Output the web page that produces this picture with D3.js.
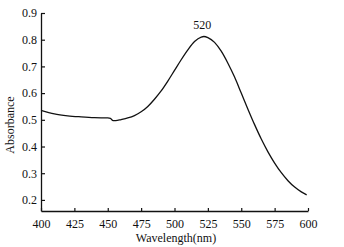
<!DOCTYPE html>
<html>
<head>
<meta charset="utf-8">
<script src="https://cdn.jsdelivr.net/npm/d3@7"></script>
<style>
  body { margin: 0; background: #fff; }
  text { font-family: "Liberation Serif", "DejaVu Serif", serif; fill: #111; }
</style>
</head>
<body>
<div id="chart"></div>
<script>
// absorption spectrum, peak at 520 nm

var wavelength = [400, 410, 420, 430, 440, 450, 452, 454, 456, 460, 465, 470, 475, 480, 485,
                  490, 495, 500, 505, 510, 515, 520, 522, 525, 530, 535, 540, 545, 550, 555,
                  560, 565, 570, 575, 580, 585, 590, 595, 599];
var absorbance = [0.535, 0.522, 0.515, 0.511, 0.508, 0.507, 0.505, 0.497, 0.497, 0.501, 0.507, 0.516, 0.530, 0.550, 0.577,
                  0.608, 0.645, 0.685, 0.725, 0.762, 0.793, 0.810, 0.812, 0.808, 0.790, 0.757, 0.712, 0.660, 0.600, 0.540,
                  0.482, 0.428, 0.380, 0.338, 0.302, 0.272, 0.248, 0.230, 0.219];
var xTicks = [400, 425, 450, 475, 500, 525, 550, 575, 600];
var yTicks = [0.2, 0.3, 0.4, 0.5, 0.6, 0.7, 0.8, 0.9];
var peakLabel = "520";

var width = 344,
    height = 247;

var svg = d3.select("#chart").append("svg")
    .attr("width", width)
    .attr("height", height);

var x = d3.scaleLinear().domain([400, 600]).range([41, 308]);
var y = d3.scaleLinear().domain([0.1585, 0.9]).range([211, 13]);

// x axis, ticks pointing inward
var gx = svg.append("g")
    .attr("transform", "translate(0," + y(0.1585) + ")")
    .call(d3.axisBottom(x).tickValues(xTicks).tickSizeInner(-3).tickSizeOuter(0).tickPadding(8));

// y axis
var gy = svg.append("g")
    .attr("transform", "translate(" + x(400) + ",0)")
    .call(d3.axisLeft(y).tickValues(yTicks).tickFormat(d3.format(".1f")).tickSizeInner(-4).tickSizeOuter(0).tickPadding(4));

svg.selectAll(".domain").attr("stroke", "#111").attr("stroke-width", 1.3);
svg.selectAll(".tick line").attr("stroke", "#111").attr("stroke-width", 1.2);
svg.selectAll(".tick text").style("font-size", "12px").style("font-family", "Liberation Serif");

// spectrum line
var line = d3.line()
    .x(function(d, i) { return x(wavelength[i]); })
    .y(function(d) { return y(d); })
    .curve(d3.curveMonotoneX);

svg.append("path")
    .datum(absorbance)
    .attr("fill", "none")
    .attr("stroke", "#111")
    .attr("stroke-width", 1.3)
    .attr("d", line);

// peak label
svg.append("text")
    .attr("x", x(520) + 1)
    .attr("y", y(0.812) - 7)
    .attr("text-anchor", "middle")
    .style("font-size", "12px")
    .text(peakLabel);

// axis titles
svg.append("text")
    .attr("x", 176)
    .attr("y", 242)
    .attr("text-anchor", "middle")
    .style("font-size", "12px")
    .text("Wavelength(nm)");

svg.append("text")
    .attr("transform", "translate(14,125) rotate(-90)")
    .attr("text-anchor", "middle")
    .style("font-size", "12px")
    .text("Absorbance");
</script>
</body>
</html>
